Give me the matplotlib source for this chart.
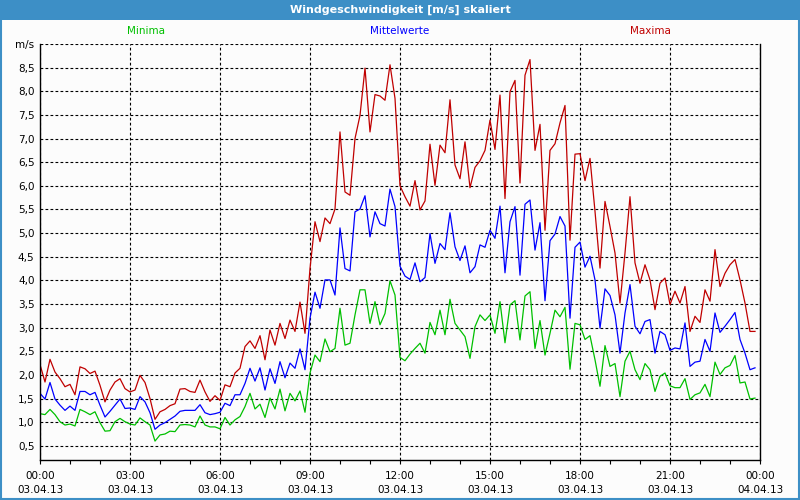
import numpy as np
import matplotlib
matplotlib.use("Agg")
import matplotlib.pyplot as plt
from matplotlib.patches import Rectangle
from matplotlib.ticker import MultipleLocator, FixedLocator

# 10-minute values, 03.04.13 00:00 .. 23:50
minima = [
    1.18, 1.16, 1.27, 1.16, 1.01, 0.94, 0.96, 0.92, 1.27, 1.22, 1.16, 1.22, 0.99, 0.81, 0.82,
    1.01, 1.08, 1.01, 0.96, 0.94, 1.09, 1.01, 0.94, 0.60, 0.73, 0.75, 0.81, 0.80, 0.94, 0.95,
    0.94, 0.90, 1.13, 0.94, 0.90, 0.90, 0.86,
    1.10, 0.94, 1.05, 1.12, 1.33, 1.61, 1.28, 1.38, 1.10, 1.51, 1.28, 1.70, 1.24, 1.61, 1.45,
    1.66, 1.21, 2.04, 2.42, 2.28, 2.76, 2.49, 2.56, 3.41, 2.63, 2.67, 3.27, 3.80, 3.80, 3.09,
    3.55, 3.06, 3.30, 3.99, 3.69, 2.37,
    2.30, 2.44, 2.56, 2.67, 2.46, 3.11, 2.85, 3.37, 2.85, 3.60, 3.09, 2.95, 2.81, 2.35, 3.02,
    3.27, 3.15, 3.27, 2.88, 3.55, 2.68, 3.48, 3.57, 2.74, 3.67, 3.76, 2.56, 3.15, 2.42, 2.88,
    3.37, 3.23, 3.43, 2.12, 3.09, 3.06,
    2.75, 2.83, 2.32, 1.76, 2.62, 2.18, 2.24, 1.54, 2.29, 2.50, 2.11, 1.90, 2.24, 2.11, 1.65,
    1.97, 2.04, 1.77, 1.73, 1.73, 1.92, 1.48, 1.58, 1.62, 1.80, 1.54, 2.27, 2.01, 2.15, 2.20,
    2.41, 1.83, 1.85, 1.49, 1.51,
]
mittelwerte = [
    1.61, 1.49, 1.84, 1.49, 1.36, 1.25, 1.34, 1.25, 1.65, 1.65, 1.58, 1.63, 1.36, 1.11, 1.23,
    1.36, 1.49, 1.29, 1.30, 1.27, 1.54, 1.43, 1.20, 0.85, 0.94, 0.99, 1.06, 1.13, 1.23, 1.25,
    1.25, 1.25, 1.37, 1.20, 1.16, 1.18, 1.21,
    1.40, 1.35, 1.58, 1.58, 1.82, 2.14, 1.87, 2.15, 1.68, 2.13, 1.82, 2.28, 1.94, 2.25, 2.14,
    2.55, 2.11, 3.20, 3.75, 3.41, 4.01, 4.01, 3.69, 5.11, 4.25, 4.20, 5.45, 5.51, 5.79, 4.92,
    5.45, 5.20, 5.15, 5.93, 5.56, 4.30,
    4.09, 4.02, 4.37, 3.97, 4.06, 4.99, 4.36, 4.78, 4.65, 5.43, 4.71, 4.42, 4.73, 4.16, 4.29,
    4.75, 4.70, 5.06, 4.89, 5.57, 4.16, 5.24, 5.56, 4.11, 5.61, 5.70, 4.64, 5.22, 3.57, 4.84,
    4.98, 5.35, 5.15, 3.20, 4.70, 4.81,
    4.28, 4.51, 4.01, 2.99, 3.82, 3.68, 3.27, 2.46, 3.31, 3.91, 3.03, 2.87, 3.13, 3.17, 2.46,
    2.92, 2.85, 2.52, 2.57, 2.55, 3.10, 2.18, 2.27, 2.29, 2.75, 2.50, 3.31, 2.90, 3.03, 3.17,
    3.32, 2.75, 2.46, 2.11, 2.15,
]
maxima = [
    2.22, 1.85, 2.33, 2.06, 1.92, 1.75, 1.80, 1.58, 2.17, 2.13, 2.03, 2.08, 1.78, 1.43, 1.68,
    1.85, 1.92, 1.71, 1.64, 1.68, 1.99, 1.84, 1.50, 1.06, 1.22, 1.27, 1.35, 1.39, 1.70, 1.71,
    1.65, 1.63, 1.89, 1.64, 1.44, 1.56, 1.46,
    1.79, 1.75, 2.04, 2.14, 2.60, 2.72, 2.56, 2.83, 2.32, 2.95, 2.63, 3.09, 2.77, 3.16, 2.92,
    3.54, 2.88, 4.25, 5.24, 4.82, 5.32, 5.20, 5.51, 7.14, 5.87, 5.80, 7.00, 7.49, 8.49, 7.14,
    7.93, 7.90, 7.81, 8.56, 7.85, 6.00,
    5.77, 5.57, 6.11, 5.49, 5.68, 6.88, 6.01, 6.86, 6.70, 7.82, 6.44, 6.15, 6.93, 5.96, 6.39,
    6.53, 6.75, 7.39, 6.77, 7.92, 5.73, 7.99, 8.23, 6.06, 8.34, 8.67, 6.75, 7.30, 5.06, 6.75,
    6.89, 7.33, 7.70, 4.85, 6.67, 6.68,
    6.11, 6.58, 5.46, 4.26, 5.67, 5.14, 4.58, 3.52, 4.58, 5.77, 4.37, 3.94, 4.33, 4.01, 3.38,
    3.94, 4.05, 3.49, 3.77, 3.52, 3.87, 2.92, 3.24, 3.11, 3.80, 3.56, 4.65, 3.87, 4.15, 4.33,
    4.44, 4.01, 3.52, 2.92, 2.92,
]

hours = np.arange(len(maxima)) / 6.0
x_ticks = [0, 3, 6, 9, 12, 15, 18, 21, 24]
x_labels = ["00:00\n03.04.13", "03:00\n03.04.13", "06:00\n03.04.13", "09:00\n03.04.13",
            "12:00\n03.04.13", "15:00\n03.04.13", "18:00\n03.04.13", "21:00\n03.04.13",
            "00:00\n04.04.13"]
y_ticks = [0.5, 1.0, 1.5, 2.0, 2.5, 3.0, 3.5, 4.0, 4.5, 5.0, 5.5, 6.0, 6.5, 7.0, 7.5, 8.0, 8.5, 9.0]

FRAME = "#3d8fc6"
C_MIN, C_MEAN, C_MAX = "#00c000", "#0000ff", "#c00000"

plt.rcParams["font.family"] = ["DejaVu Sans"]
fig = plt.figure(figsize=(8, 5), dpi=100, facecolor="#fcfcfc")

# window frame + title bar
fig.patches.append(Rectangle((0, 0.96), 1, 0.04, transform=fig.transFigure,
                             facecolor=FRAME, edgecolor="none", zorder=0))
fig.patches.append(Rectangle((0.001, 0.002), 0.998, 0.996, transform=fig.transFigure,
                             facecolor="none", edgecolor=FRAME, lw=1.5, zorder=0))
fig.text(0.5, 0.98, "Windgeschwindigkeit [m/s] skaliert", color="white",
         fontsize=8, fontweight="bold", ha="center", va="center")

fig.text(0.183, 0.937, "Minima", color=C_MIN, fontsize=7.5, ha="center", va="center")
fig.text(0.5, 0.937, "Mittelwerte", color=C_MEAN, fontsize=7.5, ha="center", va="center")
fig.text(0.813, 0.937, "Maxima", color=C_MAX, fontsize=7.5, ha="center", va="center")

ax = fig.add_axes([0.05, 0.08, 0.9, 0.832])
ax.set_facecolor("#fcfcfc")

ax.plot(hours, maxima, color=C_MAX, lw=0.9)
ax.plot(hours, mittelwerte, color=C_MEAN, lw=0.9)
ax.plot(hours, minima, color=C_MIN, lw=0.9)

ax.set_xlim(0, 24)
ax.set_ylim(0.2, 9.0)

ax.xaxis.set_major_locator(FixedLocator(x_ticks))
ax.set_xticklabels(x_labels, fontsize=7.5, linespacing=1.5)
ax.xaxis.set_minor_locator(MultipleLocator(1))
ax.tick_params(axis="x", which="both", direction="out", length=3, width=0.8, pad=5)
ax.yaxis.set_major_locator(FixedLocator(y_ticks))
ax.set_yticklabels([f"{v:.1f}".replace(".", ",") for v in y_ticks[:-1]] + ["m/s"], fontsize=7.5)
ax.tick_params(axis="y", length=0, pad=4)

ax.grid(True, which="major", color="black", lw=0.8, linestyle=(0, (2.5, 2.0)))
ax.spines["top"].set_visible(False)
for s in ("left", "right", "bottom"):
    ax.spines[s].set_linewidth(1.0)

fig.savefig("out.png", dpi=100, facecolor=fig.get_facecolor())
